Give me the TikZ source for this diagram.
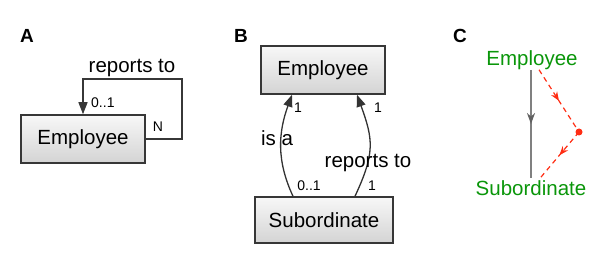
\documentclass[tikz,border=0pt]{standalone}
\usepackage{fontspec}
\setmainfont{Liberation Sans}
\usetikzlibrary{arrows.meta,decorations.markings}
\definecolor{cgreen}{RGB}{10,150,10}
\definecolor{cred}{RGB}{255,45,20}
\definecolor{cborder}{RGB}{55,55,55}
\tikzset{
  box/.style={draw=cborder, line width=1.5pt, top color=white!97!black, bottom color=black!17,
    minimum width=124pt, minimum height=48pt, inner sep=0pt,
    font=\fontsize{20.5}{24}\selectfont},
  lbl/.style={font=\fontsize{20.5}{24}\selectfont, inner sep=0pt},
  small/.style={font=\fontsize{14}{16}\selectfont, inner sep=0pt},
  panel/.style={font=\fontsize{19}{21}\selectfont\bfseries, inner sep=0pt},
  arr/.style={-{Triangle[length=12pt,width=9pt]}, line width=1.3pt},
  cgreentext/.style={lbl, text=cgreen},
  midarrow/.style={postaction={decorate}, decoration={markings,
    mark=at position 0.5 with {\arrow{#1}}}},
}
\begin{document}
\begin{tikzpicture}[x=1pt,y=1pt]
\useasboundingbox (0,0) rectangle (616,260);
% Panel A
\node[panel] (pA) at (27,224) {A};
\node[box] (eA) at (83,121) {Employee};
\coordinate (a1) at (182,181);
\draw[arr, cborder] (eA.east) -| (a1) -| (eA.north);
\node[lbl] (rA) at (132,192) {reports to};
\node[small, anchor=west] (oA) at (91,157) {0..1};
\node[small] (nA) at (158,133) {N};
% Panel B
\node[panel] (pB) at (241,224) {B};
\node[box] (eB) at (323,190) {Employee};
\node[box, minimum width=138pt, minimum height=46pt] (sB) at (324,40) {Subordinate};
\draw[arr, black!80] ([xshift=-31pt]sB.north) to[out=115, in=-110] ([xshift=-31pt]eB.south);
\draw[arr, black!80] ([xshift=31pt]sB.north) to[out=65, in=-70, looseness=1.2] ([xshift=34pt]eB.south);
\node[lbl] (isa) at (277,122) {is a};
\node[lbl] (rB) at (368,97) {reports to};
\node[small] (b1) at (298,152) {1};
\node[small] (b2) at (378,152) {1};
\node[small] (b3) at (309,74) {0..1};
\node[small] (b4) at (372,74) {1};
% Panel C
\node[panel] (pC) at (460,224) {C};
\node[cgreentext] (eC) at (532,200) {Employee};
\node[cgreentext] (sC) at (531,72) {Subordinate};
\coordinate (dot) at (579,128);
\draw[line width=2.8pt, black!50, midarrow={Stealth[length=11pt,width=8pt,black!62]}]
  ([xshift=-1pt]eC.south) -- ([yshift=2pt]sC.north);
\draw[cred, line width=1.2pt, dashed, dash pattern=on 5pt off 4pt,
  midarrow={Stealth[length=9pt,width=7pt]}]
  ([xshift=7pt]eC.south) -- (dot);
\draw[cred, line width=1.2pt, dashed, dash pattern=on 5pt off 4pt,
  midarrow={Stealth[length=9pt,width=7pt]}]
  (dot) -- ([xshift=9pt,yshift=2pt]sC.north);
\fill[cred] (dot) circle (3.5pt);
\end{tikzpicture}
\end{document}
